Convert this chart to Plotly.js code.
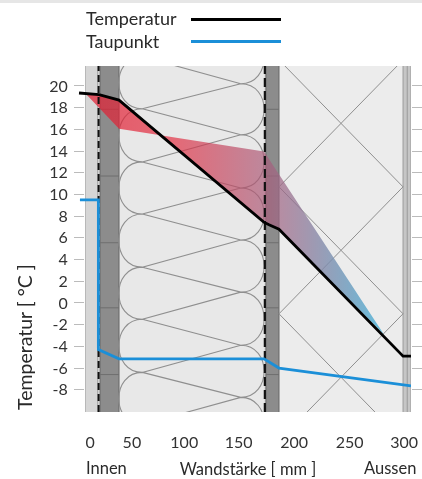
<!DOCTYPE html>
<html><head><meta charset="utf-8">
<script src="https://cdn.plot.ly/plotly-3.0.1.min.js"></script>
<style>
html,body{margin:0;padding:0;background:#fff;overflow:hidden}
#strip{position:absolute;left:0;top:0;width:422px;height:3px;background:#e6e6e6;z-index:2}
#chart{position:absolute;left:0;top:0;width:422px;height:479px;filter:blur(0.5px)}
</style></head><body><div id="strip"></div><div id="chart"></div>
<script>
// Wall thickness values as placed on the drawing
const tempX=[-10.5,8.6,27.7,166,171,180.5,299,306.6];
const tempY=[19.35,19.2,18.7,7.45,7.2,6.8,-4.9,-4.9];
const dewX=[-9.6,8,8,27.7,166.2,180.5,306.6];
const dewY=[9.5,9.5,-4.3,-5.15,-5.15,-6,-7.65];
const bandX=[-4.8,27.7,166.2,280.8];
const bandY=[19.35,16.05,13.95,-2.9];
const bandBackX=[180.5,171,166,27.7,8.6,-4.8];
const bandBackY=[6.8,7.2,7.45,18.7,19.2,19.35];
const yTicks=[20,18,16,14,12,10,8,6,4,2,0,-2,-4,-6,-8];
const yLabels=["20","18","16","14","12","10","8","6","4","2","0","-2","-4","-6","-8"];
const xTickPos=[0,40,90,142,195,248,300];
const xTickLabels=["0","50","100","150","200","250","300"];
// wall layers
const layerStart=[-4.8,7.4,9.6,27.7,166.2,168,180.5,299];
const layerEnd=[7.4,9.6,27.7,166.2,168,180.5,299,306.6];
const layerFill=["#d6d6d6","#e4e4e4","#8c8c8c","#e8e8e8","#dcdcdc","#8c8c8c","#ececec","#c6c6c6"];
const jointY=[17.85,11.7,5.55,-0.45,-6.6];
const leftNodes=[22.7,17.9,13.0,8.2,3.3,-1.5,-6.4,-11.2];
const rightNodes=[25,20.2,15.5,10.6,5.8,1.0,-3.9,-8.7,-13.5];
const panelAx=[180.5,299,180.5,299],panelAy=[22.4,10.7,-1,-12.7];
const panelBx=[299,180.5,299,180.5],panelBy=[22.4,10.7,-1,-12.7];

const grey="#8f8f8f";
const font="Lato, Noto Sans, sans-serif";
const L=75, W=336; // left edge and width of the paper area
const yRange=[-10.05,21.84];
const shapes=[];
layerStart.forEach((s,i)=>shapes.push({type:"rect",xref:"x",yref:"y",x0:s,x1:layerEnd[i],y0:yRange[0],y1:yRange[1],layer:"below",fillcolor:layerFill[i],line:{width:0}}));
[-4.8,7.4,9.6,27.7,168,180.5,299,303,306.6].forEach(x=>shapes.push({type:"line",xref:"x",yref:"y",x0:x,x1:x,y0:yRange[0],y1:yRange[1],layer:"below",line:{color:x===9.6||x===27.7||x===168||x===180.5?"#666":"#9a9a9a",width:1}}));
jointY.forEach(y=>{
  shapes.push({type:"line",xref:"x",yref:"y",x0:9.6,x1:27.7,y0:y,y1:y,layer:"below",line:{color:"#6e6e6e",width:1}});
  shapes.push({type:"line",xref:"x",yref:"y",x0:168,x1:180.5,y0:y,y1:y,layer:"below",line:{color:"#6e6e6e",width:1}});
});
// insulation symbol
let p="";
for(let i=0;i<leftNodes.length-1;i++){p+=`M50,${leftNodes[i]} C20,${leftNodes[i]} 20,${leftNodes[i+1]} 50,${leftNodes[i+1]} `;}
for(let i=0;i<rightNodes.length-1;i++){p+=`M144,${rightNodes[i]} C173.7,${rightNodes[i]} 173.7,${rightNodes[i+1]} 144,${rightNodes[i+1]} `;}
for(let i=0;i<leftNodes.length;i++){p+=`M144,${rightNodes[i]} L50,${leftNodes[i]} L144,${rightNodes[i+1]} `;}
shapes.push({type:"path",xref:"x",yref:"y",path:p,layer:"below",line:{color:grey,width:1.1}});
// legend lines
shapes.push({type:"line",xref:"paper",yref:"paper",x0:(191-L)/W,x1:(281-L)/W,y0:(412-19.5)/346,y1:(412-19.5)/346,line:{color:"#000",width:3}});
shapes.push({type:"line",xref:"paper",yref:"paper",x0:(191-L)/W,x1:(281-L)/W,y0:(412-41.5)/346,y1:(412-41.5)/346,line:{color:"#1b8fd8",width:3}});

const traces=[
 {x:panelAx,y:panelAy,mode:"lines",line:{color:grey,width:1},hoverinfo:"skip",showlegend:false},
 {x:panelBx,y:panelBy,mode:"lines",line:{color:grey,width:1},hoverinfo:"skip",showlegend:false},
 {x:bandX.concat(bandBackX),y:bandY.concat(bandBackY),mode:"none",fill:"toself",hoverinfo:"skip",showlegend:false,
  fillgradient:{type:"horizontal",start:-4.8,stop:280.8,colorscale:[[0,"rgba(226,30,50,0.72)"],[0.3,"rgba(226,40,60,0.66)"],[0.6,"rgba(170,90,120,0.68)"],[1,"rgba(85,185,220,0.9)"]]}},
 {x:[8.2,8.2],y:yRange,mode:"lines",line:{color:"#111",width:2,dash:"7px,4px"},hoverinfo:"skip",showlegend:false},
 {x:[167,167],y:yRange,mode:"lines",line:{color:"#111",width:2.2,dash:"9px,4px"},hoverinfo:"skip",showlegend:false},
 {x:tempX,y:tempY,name:"Temperatur",mode:"lines",line:{color:"#000",width:2.8},xaxis:"x2",yaxis:"y2",showlegend:false},
 {x:dewX,y:dewY,name:"Taupunkt",mode:"lines",line:{color:"#1b8fd8",width:2.8},xaxis:"x2",yaxis:"y2",showlegend:false}
];
const ann=(text,px,py,anchor,size,extra)=>Object.assign({text,xref:"paper",yref:"paper",x:(px-L)/W,y:(412-py)/346,xanchor:anchor,yanchor:"middle",showarrow:false,font:{family:font,size,color:"#2a2a2a"}},extra||{});
const layout={
 width:422,height:479,margin:{l:L,r:11,t:66,b:67,pad:0},paper_bgcolor:"#fff",plot_bgcolor:"rgba(0,0,0,0)",showlegend:false,
 xaxis:{domain:[(85-L)/W,1],range:[-4.8,306.6],showgrid:false,zeroline:false,showline:false,tickmode:"array",tickvals:xTickPos,ticktext:xTickLabels,ticks:"outside",ticklen:16,tickcolor:"rgba(0,0,0,0)",tickfont:{family:font,size:16,color:"#333"},
   title:{text:"Wandstärke [ mm ]",font:{family:font,size:16.5,color:"#2a2a2a"},standoff:14}},
 yaxis:{range:yRange,showgrid:false,zeroline:false,showline:false,mirror:"ticks",tickmode:"array",tickvals:yTicks,ticktext:yLabels,ticks:"outside",ticklen:10,tickwidth:1,tickcolor:"#bbb",ticklabelstandoff:3,tickfont:{family:font,size:16,color:"#333"}},
 xaxis2:{domain:[0,1],range:[-14.33,306.6],visible:false,anchor:"y2"},
 yaxis2:{range:yRange,visible:false,anchor:"x2"},
 shapes,
 annotations:[
  ann("Temperatur",84,18,"left",18),
  ann("Taupunkt",84,41,"left",18),
  ann("Innen",84,468,"left",16.5),
  ann("Aussen",418,468,"right",16.5),
  ann("Temperatur [ °C ]",24,337,"center",19.5,{textangle:-90})
 ]
};
Plotly.newPlot("chart",traces,layout,{displayModeBar:false,staticPlot:true});
</script></body></html>
